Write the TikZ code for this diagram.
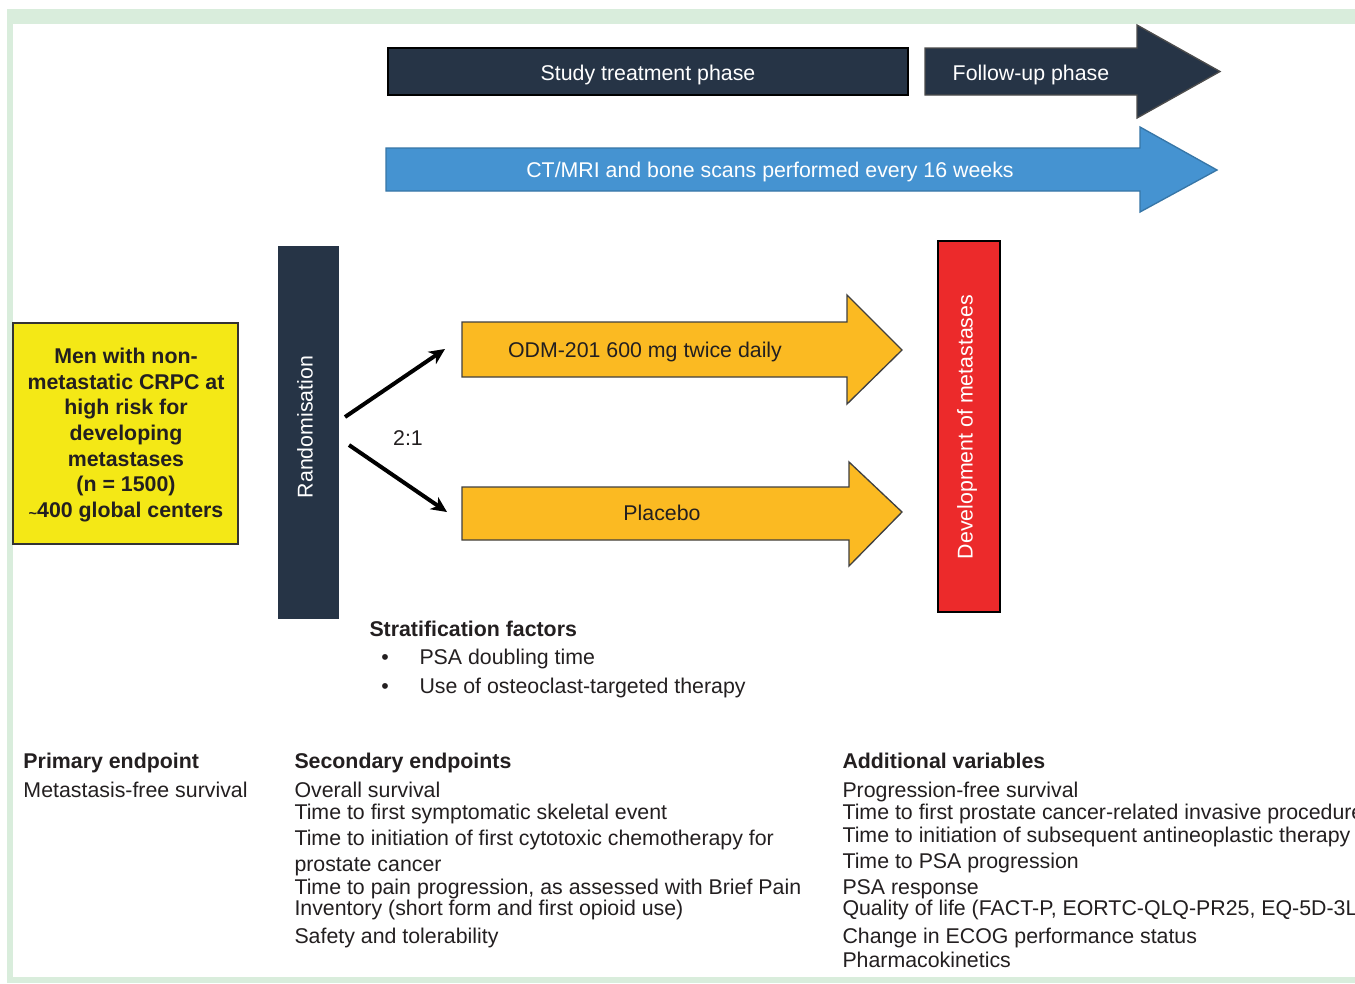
\documentclass[tikz,border=0pt]{standalone}
\usepackage{fontspec}
\setmainfont{Liberation Sans}

\definecolor{navy}{RGB}{38,52,70}
\definecolor{scanblue}{RGB}{69,147,209}
\definecolor{cohortyellow}{RGB}{244,232,22}
\definecolor{armorange}{RGB}{251,186,34}
\definecolor{metred}{RGB}{236,42,43}
\definecolor{framegreen}{RGB}{217,237,220}
\definecolor{ink}{RGB}{35,31,32}

\tikzset{every picture/.style={line width=0.75pt}}
\tikzset{
  txt/.style={font=\fontsize{16}{19.25}\selectfont, text=ink, inner sep=0pt},
  btxt/.style={txt, font=\fontsize{16}{19.25}\selectfont\bfseries},
  wtxt/.style={txt, text=white},
}

\begin{document}
\begin{tikzpicture}[x=0.75pt,y=0.75pt,yscale=-1,xscale=1]
	\useasboundingbox (0,0) rectangle (1355,983);

	%Frame
	\fill [white] (0,0) rectangle (1355,983);
	\fill [framegreen] (7,9) rectangle (1355,983);
	\fill [white] (13,24) rectangle (1355,977);

	%Shape: Rectangle [study treatment]
	\draw [fill=navy, draw=black, line width=1.2] (388,48) rectangle (908,95);
	%Shape: Right Arrow [follow-up]
	\draw [fill=navy, draw=black!70, line width=1] (925,48) -- (1137,48) -- (1137,25) -- (1220,71.5) -- (1137,118) -- (1137,95) -- (925,95) -- cycle;
	%Shape: Right Arrow [scans]
	\draw [fill=scanblue, draw=scanblue!80!black, line width=1] (386,148) -- (1140,148) -- (1140,127) -- (1217,170) -- (1140,212) -- (1140,191) -- (386,191) -- cycle;

	%Shape: Rectangle [cohort]
	\draw [fill=cohortyellow, draw=black!80, line width=1.5] (13,323) rectangle (238,544);
	%Shape: Rectangle [randomisation]
	\draw [fill=navy, draw=navy] (278,246) rectangle (338,618);
	%Shape: Rectangle [metastases]
	\draw [fill=metred, draw=black, line width=1.2] (938,241) rectangle (1000,612);

	%Shape: Right Arrow [active arm]
	\draw [fill=armorange, draw=black!75, line width=1] (462,322) -- (847,322) -- (847,295) -- (902,350) -- (847,404) -- (847,377) -- (462,377) -- cycle;
	%Shape: Right Arrow [placebo arm]
	\draw [fill=armorange, draw=black!75, line width=1] (462,487) -- (849,487) -- (849,462) -- (902,512) -- (849,566) -- (849,540) -- (462,540) -- cycle;

	% Text Node
	\draw (648,75) node [wtxt] (study) {Study treatment phase};
	% Text Node
	\draw (1031,75) node [wtxt] (follow) {Follow-up phase};
	% Text Node
	\draw (770,172) node [wtxt] (scans) {CT/MRI and bone scans performed every 16 weeks};
	% Text Node
	\draw (126,435) node [btxt, align=center] (cohort) {Men with non-\\metastatic CRPC at\\high risk for\\developing\\metastases\\(n = 1500)\\\raisebox{-0.1ex}{\fontsize{11}{11}\selectfont\char`~}400 global centers};
	% Text Node
	\draw (305,427) node [wtxt, rotate=90] (rand) {Randomisation};
	% Text Node
	\draw (967,427) node [wtxt, rotate=90] (mets) {Development of metastases};
	% Text Node
	\draw (645,352) node [txt] (odm) {ODM-201 600 mg twice daily};
	% Text Node
	\draw (662,513) node [txt] (placebo) {Placebo};
	% Text Node
	\draw (408,438) node [txt] (ratio) {2:1};

	% Connection
	\coordinate (splitA) at (345,417);
	\coordinate (armA) at (445,349);
	\draw [line width=3, shorten >=7pt] (splitA) -- (armA);
	\draw [shift={(armA)}, rotate = 145.8] [fill=black][line width=0.08][draw opacity=0] (16,-7.5) -- (0,0) -- (16,7.5) -- (11,0) -- cycle;
	% Connection
	\coordinate (splitB) at (349,445);
	\coordinate (armB) at (447,512);
	\draw [line width=3, shorten >=7pt] (splitB) -- (armB);
	\draw [shift={(armB)}, rotate = 214.4] [fill=black][line width=0.08][draw opacity=0] (16,-7.5) -- (0,0) -- (16,7.5) -- (11,0) -- cycle;

	% Text Node
	\draw (369,636) node [btxt, anchor=base west] (strat) {Stratification factors};
	% Text Node
	\draw (385,664) node [txt, anchor=base] (bulA) {\textbullet};
	\draw (419,664) node [txt, anchor=base west] (stratA) {PSA doubling time};
	% Text Node
	\draw (385,693) node [txt, anchor=base] (bulB) {\textbullet};
	\draw (419,693) node [txt, anchor=base west] (stratB) {Use of osteoclast-targeted therapy};

	% Text Node
	\draw (23,768) node [btxt, anchor=base west] (prim) {Primary endpoint};
	\draw (23,797) node [txt, anchor=base west] (primA) {Metastasis-free survival};

	% Text Node
	\draw (294,768) node [btxt, anchor=base west] (sec) {Secondary endpoints};
	\draw (294,797) node [txt, anchor=base west] (secA) {Overall survival};
	\draw (294,819) node [txt, anchor=base west] (secB) {Time to first symptomatic skeletal event};
	\draw (294,845) node [txt, anchor=base west] (secC) {Time to initiation of first cytotoxic chemotherapy for};
	\draw (294,871) node [txt, anchor=base west] (secD) {prostate cancer};
	\draw (294,894) node [txt, anchor=base west] (secE) {Time to pain progression, as assessed with Brief Pain};
	\draw (294,915) node [txt, anchor=base west] (secF) {Inventory (short form and first opioid use)};
	\draw (294,943) node [txt, anchor=base west] (secG) {Safety and tolerability};

	% Text Node
	\draw (842,768) node [btxt, anchor=base west] (add) {Additional variables};
	\draw (842,797) node [txt, anchor=base west] (addA) {Progression-free survival};
	\draw (842,819) node [txt, anchor=base west] (addB) {Time to first prostate cancer-related invasive procedure};
	\draw (842,842) node [txt, anchor=base west] (addC) {Time to initiation of subsequent antineoplastic therapy};
	\draw (842,868) node [txt, anchor=base west] (addD) {Time to PSA progression};
	\draw (842,894) node [txt, anchor=base west] (addE) {PSA response};
	\draw (842,915) node [txt, anchor=base west] (addF) {Quality of life (FACT-P, EORTC-QLQ-PR25, EQ-5D-3L)};
	\draw (842,943) node [txt, anchor=base west] (addG) {Change in ECOG performance status};
	\draw (842,967) node [txt, anchor=base west] (addH) {Pharmacokinetics};

\end{tikzpicture}
\end{document}
